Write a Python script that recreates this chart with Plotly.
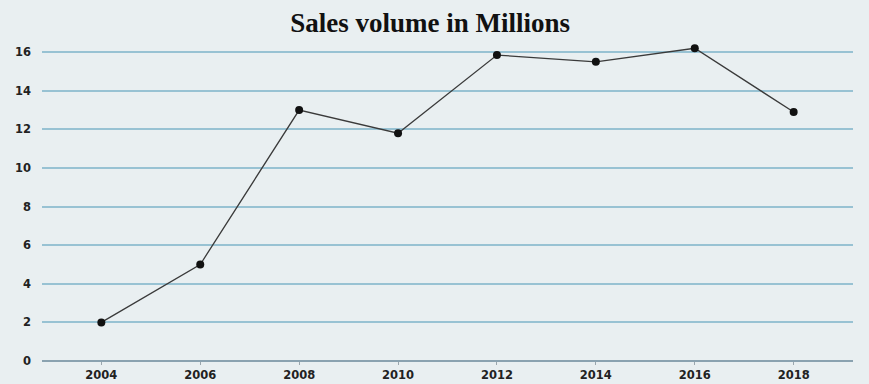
import plotly.graph_objects as go

years = [2004, 2006, 2008, 2010, 2012, 2014, 2016, 2018]
sales = [2.0, 5.0, 13.0, 11.8, 15.85, 15.5, 16.2, 12.9]
y_ticks = [0, 2, 4, 6, 8, 10, 12, 14, 16]
title_text = "Sales volume in Millions"

fig = go.Figure()
fig.add_trace(go.Scatter(
    x=years, y=sales, mode="lines+markers",
    line=dict(color="#3a3a3a", width=1.3),
    marker=dict(color="#111111", size=8),
    showlegend=False,
))

tick_font = dict(family="DejaVu Sans, Verdana, sans-serif", size=11.5, color="#222222", weight="bold")

fig.update_layout(
    width=869, height=384,
    margin=dict(l=42, r=16, t=40, b=23, autoexpand=False),
    paper_bgcolor="#e9eff1",
    plot_bgcolor="#e9eff1",
    title=dict(text="<b>" + title_text + "</b>", x=0.495, xanchor="center", y=0.94, yanchor="middle",
               font=dict(family="Liberation Serif, Times New Roman, serif", size=27, color="#111111")),
    xaxis=dict(range=[2002.8, 2019.2], tickvals=years, showgrid=False, zeroline=False,
               ticks="outside", ticklen=3, tickcolor="#9aa6ad", showline=False,
               tickfont=tick_font, automargin=False, fixedrange=True),
    yaxis=dict(range=[0, 16.63], tickvals=y_ticks, showgrid=True, gridcolor="#98c2d3", gridwidth=1.5,
               zeroline=True, zerolinecolor="#8aa2b0", zerolinewidth=1.8,
               ticks="", ticklabelstandoff=10,
               tickfont=tick_font, automargin=False, fixedrange=True),
    font=dict(family="DejaVu Sans, sans-serif", size=11, color="#222222"),
)

fig.write_html("out.html")
